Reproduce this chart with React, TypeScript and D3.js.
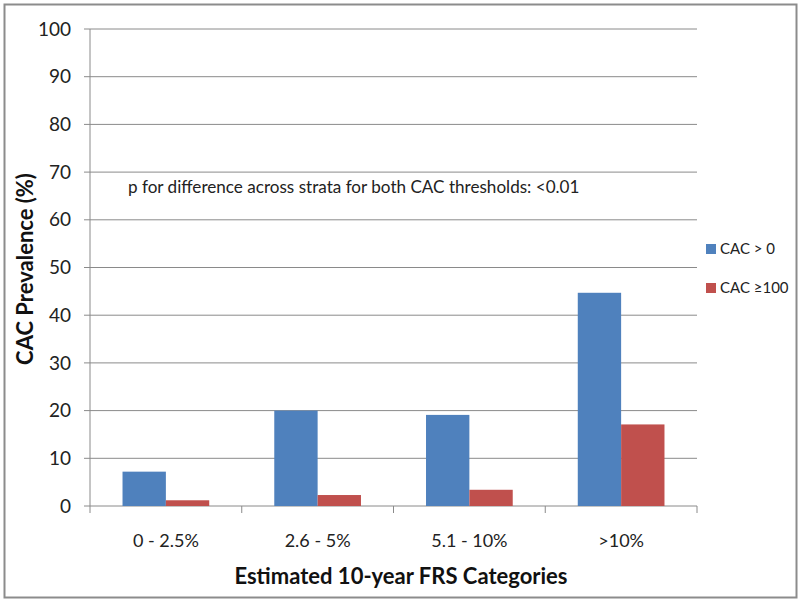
import React from "react";
import * as d3 from "d3";

const categories = ["0 - 2.5%", "2.6 - 5%", "5.1 - 10%", ">10%"];
const seriesNames = ["CAC > 0", "CAC \u2265100"];
const cacAbove0 = [7.2, 20.0, 19.1, 44.7];
const cacAbove100 = [1.2, 2.3, 3.4, 17.1];
const colors = ["#4F81BD", "#C0504D"];
const yTicks = [0, 10, 20, 30, 40, 50, 60, 70, 80, 90, 100];

const W = 800;
const H = 602;
const left = 90, right = 697, top = 29, bottom = 506;
const font = "Lato, 'Open Sans', sans-serif";

export default function App() {
  const x = d3.scaleBand<string>().domain(categories).range([left, right]).paddingInner(0).paddingOuter(0);
  const y = d3.scaleLinear().domain([0, 100]).range([bottom, top]);
  const bw = x.bandwidth() / 3.5;
  const series = [cacAbove0, cacAbove100];
  return (
    <svg width={W} height={H} style={{ position: "absolute", left: 0, top: 0 }} fontFamily={font}>
      <rect x={0} y={0} width={W} height={H} fill="#fff" />
      <rect x={4.5} y={4.5} width={792} height={593} fill="none" stroke="#8c8c8c" strokeWidth={2} />
      {yTicks.map((t) => (
        <g key={t}>
          {t > 0 && <line x1={left} x2={right} y1={y(t)} y2={y(t)} stroke="#8a8a8a" strokeWidth={1} />}
          <line x1={left - 6} x2={left} y1={y(t)} y2={y(t)} stroke="#8a8a8a" />
          <text x={71} y={y(t)} dy="0.35em" textAnchor="end" fontSize={19} fill="#222">{t}</text>
        </g>
      ))}
      <line x1={left} x2={left} y1={top} y2={bottom} stroke="#8a8a8a" />
      <line x1={left} x2={right} y1={bottom} y2={bottom} stroke="#8a8a8a" />
      {[...categories.map((c) => x(c)!), right].map((v, i) => (
        <line key={i} x1={v} x2={v} y1={bottom} y2={bottom + 7} stroke="#8a8a8a" />
      ))}
      {series.map((s, si) =>
        s.map((v, i) => {
          const cx = x(categories[i])! + x.bandwidth() / 2;
          const x0 = cx - bw + si * bw;
          return <rect key={si + "-" + i} x={x0} y={y(v)} width={bw} height={bottom - y(v)} fill={colors[si]} />;
        })
      )}
      {categories.map((c) => (
        <text key={c} x={x(c)! + x.bandwidth() / 2} y={547} textAnchor="middle" fontSize={18} fill="#222">{c}</text>
      ))}
      <text x={401} y={584} textAnchor="middle" fontSize={22} fontWeight="bold" fill="#111">Estimated 10-year FRS Categories</text>
      <text transform="translate(33,269) rotate(-90)" textAnchor="middle" fontSize={22} fontWeight="bold" fill="#111">CAC Prevalence (%)</text>
      <text x={128} y={193} fontSize={17.1} fill="#222">p for difference across strata for both CAC thresholds: &lt;0.01</text>
      {seriesNames.map((n, i) => (
        <g key={n}>
          <rect x={706} y={244 + i * 39} width={10} height={10} fill={colors[i]} />
          <text x={720} y={249 + i * 39} dy="0.35em" fontSize={15} fill="#222">{n}</text>
        </g>
      ))}
    </svg>
  );
}
